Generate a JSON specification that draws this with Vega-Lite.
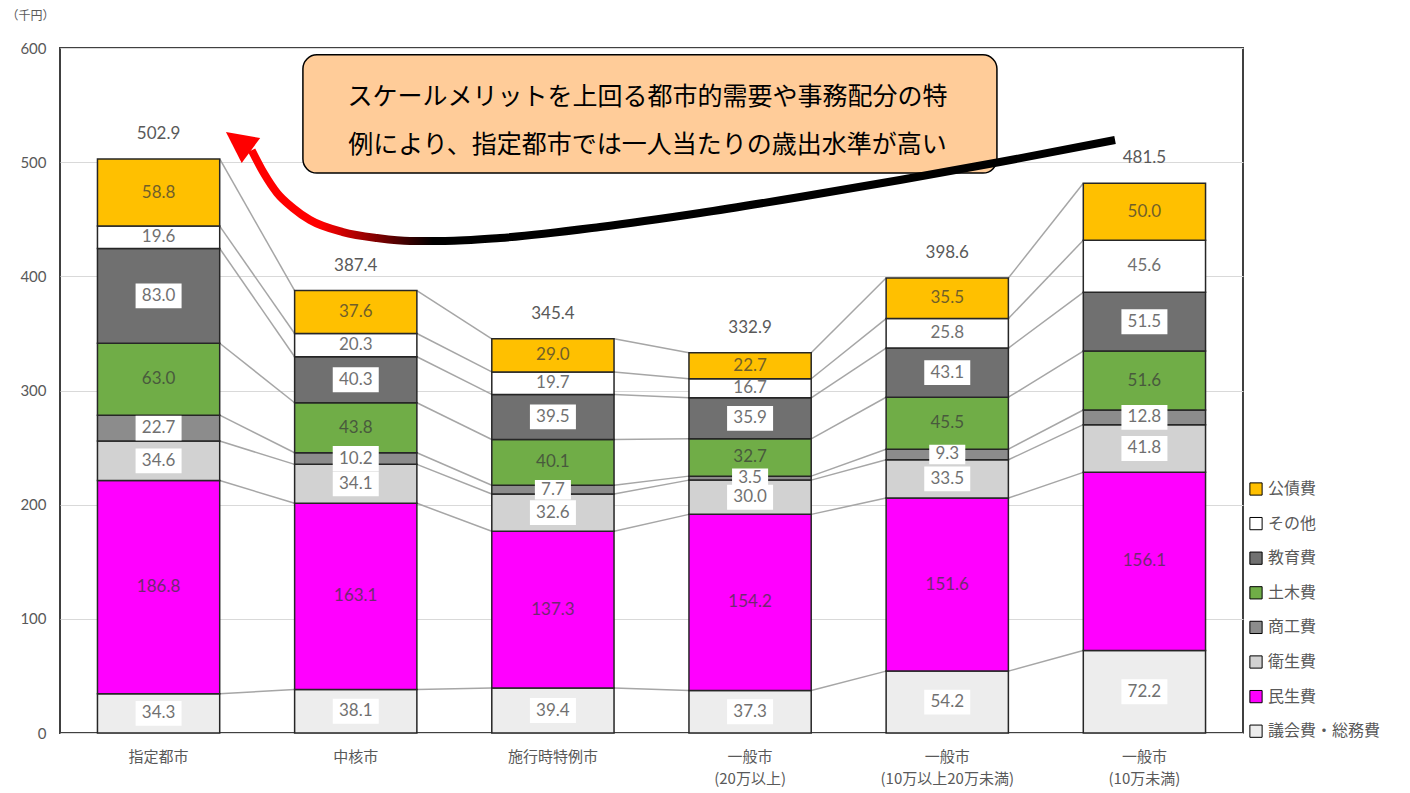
{
"$schema": "https://vega.github.io/schema/vega-lite/v6.json",
"width": 1183, "height": 685,
"autosize": {"type": "none"},
"padding": {"left": 60, "top": 48, "right": 167, "bottom": 60},
"background": "white",
"datasets": {
"spend": [
{"g":"指定都市","gi":0,"c":"議会費・総務費","o":1,"v":34.3},
{"g":"指定都市","gi":0,"c":"民生費","o":2,"v":186.8},
{"g":"指定都市","gi":0,"c":"衛生費","o":3,"v":34.6},
{"g":"指定都市","gi":0,"c":"商工費","o":4,"v":22.7},
{"g":"指定都市","gi":0,"c":"土木費","o":5,"v":63.0},
{"g":"指定都市","gi":0,"c":"教育費","o":6,"v":83.0},
{"g":"指定都市","gi":0,"c":"その他","o":7,"v":19.6},
{"g":"指定都市","gi":0,"c":"公債費","o":8,"v":58.8},
{"g":"中核市","gi":1,"c":"議会費・総務費","o":1,"v":38.1},
{"g":"中核市","gi":1,"c":"民生費","o":2,"v":163.1},
{"g":"中核市","gi":1,"c":"衛生費","o":3,"v":34.1},
{"g":"中核市","gi":1,"c":"商工費","o":4,"v":10.2},
{"g":"中核市","gi":1,"c":"土木費","o":5,"v":43.8},
{"g":"中核市","gi":1,"c":"教育費","o":6,"v":40.3},
{"g":"中核市","gi":1,"c":"その他","o":7,"v":20.3},
{"g":"中核市","gi":1,"c":"公債費","o":8,"v":37.6},
{"g":"施行時特例市","gi":2,"c":"議会費・総務費","o":1,"v":39.4},
{"g":"施行時特例市","gi":2,"c":"民生費","o":2,"v":137.3},
{"g":"施行時特例市","gi":2,"c":"衛生費","o":3,"v":32.6},
{"g":"施行時特例市","gi":2,"c":"商工費","o":4,"v":7.7},
{"g":"施行時特例市","gi":2,"c":"土木費","o":5,"v":40.1},
{"g":"施行時特例市","gi":2,"c":"教育費","o":6,"v":39.5},
{"g":"施行時特例市","gi":2,"c":"その他","o":7,"v":19.7},
{"g":"施行時特例市","gi":2,"c":"公債費","o":8,"v":29.0},
{"g":"一般市(20万以上)","gi":3,"c":"議会費・総務費","o":1,"v":37.3},
{"g":"一般市(20万以上)","gi":3,"c":"民生費","o":2,"v":154.2},
{"g":"一般市(20万以上)","gi":3,"c":"衛生費","o":3,"v":30.0},
{"g":"一般市(20万以上)","gi":3,"c":"商工費","o":4,"v":3.5},
{"g":"一般市(20万以上)","gi":3,"c":"土木費","o":5,"v":32.7},
{"g":"一般市(20万以上)","gi":3,"c":"教育費","o":6,"v":35.9},
{"g":"一般市(20万以上)","gi":3,"c":"その他","o":7,"v":16.7},
{"g":"一般市(20万以上)","gi":3,"c":"公債費","o":8,"v":22.7},
{"g":"一般市(10万以上20万未満)","gi":4,"c":"議会費・総務費","o":1,"v":54.2},
{"g":"一般市(10万以上20万未満)","gi":4,"c":"民生費","o":2,"v":151.6},
{"g":"一般市(10万以上20万未満)","gi":4,"c":"衛生費","o":3,"v":33.5},
{"g":"一般市(10万以上20万未満)","gi":4,"c":"商工費","o":4,"v":9.3},
{"g":"一般市(10万以上20万未満)","gi":4,"c":"土木費","o":5,"v":45.5},
{"g":"一般市(10万以上20万未満)","gi":4,"c":"教育費","o":6,"v":43.1},
{"g":"一般市(10万以上20万未満)","gi":4,"c":"その他","o":7,"v":25.8},
{"g":"一般市(10万以上20万未満)","gi":4,"c":"公債費","o":8,"v":35.5},
{"g":"一般市(10万未満)","gi":5,"c":"議会費・総務費","o":1,"v":72.2},
{"g":"一般市(10万未満)","gi":5,"c":"民生費","o":2,"v":156.1},
{"g":"一般市(10万未満)","gi":5,"c":"衛生費","o":3,"v":41.8},
{"g":"一般市(10万未満)","gi":5,"c":"商工費","o":4,"v":12.8},
{"g":"一般市(10万未満)","gi":5,"c":"土木費","o":5,"v":51.6},
{"g":"一般市(10万未満)","gi":5,"c":"教育費","o":6,"v":51.5},
{"g":"一般市(10万未満)","gi":5,"c":"その他","o":7,"v":45.6},
{"g":"一般市(10万未満)","gi":5,"c":"公債費","o":8,"v":50.0}
],
"totals": [
{"g":"指定都市","t":502.9},
{"g":"中核市","t":387.4},
{"g":"施行時特例市","t":345.4},
{"g":"一般市(20万以上)","t":332.9},
{"g":"一般市(10万以上20万未満)","t":398.6},
{"g":"一般市(10万未満)","t":481.5}
],
"arrow": [
{"px":5.351,"py":519.4},
{"px":4.767,"py":500.1},
{"px":4.260,"py":484.4},
{"px":3.753,"py":469.5},
{"px":3.246,"py":455.5},
{"px":2.739,"py":443.2},
{"px":2.232,"py":433.6},
{"px":1.953,"py":431.0},
{"px":1.775,"py":431.0},
{"px":1.608,"py":433.6},
{"px":1.435,"py":438.8},
{"px":1.268,"py":449.3},
{"px":1.182,"py":459.8},
{"px":1.101,"py":473.0},
{"px":1.035,"py":490.0},
{"px":0.972,"py":510.5}
]
},
"layer": [
{
"layer": [
{
"data": {"name": "spend"},
"transform": [
{"stack": "v", "groupby": ["g"], "sort": [{"field": "o", "order": "ascending"}], "as": ["y0", "y1"]},
{"window": [{"op": "lead", "field": "y1", "as": "ny"}, {"op": "lead", "field": "g", "as": "ng"}], "groupby": ["c"], "sort": [{"field": "gi", "order": "ascending"}]},
{"filter": "datum.ng != null"}
],
"mark": {"type": "rule", "color": "#a6a6a6", "strokeWidth": 1.5},
"encoding": {
"x": {"field": "g", "type": "nominal", "bandPosition": 1, "title": null},
"x2": {"field": "ng", "bandPosition": 0},
"y": {"field": "y1", "type": "quantitative", "title": "（千円）"},
"y2": {"field": "ny"}
}
},
{
"data": {"name": "spend"},
"transform": [
{"stack": "v", "groupby": ["g"], "sort": [{"field": "o", "order": "ascending"}], "as": ["y0", "y1"]}
],
"mark": {"type": "bar", "stroke": "#262626", "strokeWidth": 1.5},
"encoding": {
"x": {"field": "g", "type": "nominal", "title": null,
"sort": ["指定都市","中核市","施行時特例市","一般市(20万以上)","一般市(10万以上20万未満)","一般市(10万未満)"],
"scale": {"domain": ["指定都市","中核市","施行時特例市","一般市(20万以上)","一般市(10万以上20万未満)","一般市(10万未満)"], "paddingInner": 0.38, "paddingOuter": 0.19},
"axis": {"labelExpr": "split(replace(datum.label, '(', '\\n('), '\\n')", "labelAngle": 0, "labelAlign": "center", "bandPosition": 0.5, "labelFontSize": 15, "labelColor": "#595959", "labelPadding": 23, "labelLineHeight": 22, "ticks": false, "domain": false, "labelFont": "Noto Sans CJK JP"}},
"y": {"field": "y0", "type": "quantitative", "title": "（千円）",
"scale": {"domain": [0, 600], "nice": false},
"axis": {"values": [0,100,200,300,400,500,600]}},
"y2": {"field": "y1"},
"color": {"field": "c", "type": "nominal",
"scale": {"domain": ["公債費","その他","教育費","土木費","商工費","衛生費","民生費","議会費・総務費"],
"range": ["#FFC000","#FFFFFF","#707070","#70AD47","#8c8c8c","#d2d2d2","#FF00FF","#ededed"]},
"legend": {"orient": "none", "legendX": 1188, "legendY": 433, "title": null, "symbolType": "square", "symbolSize": 150, "symbolStrokeColor": "#000000", "symbolStrokeWidth": 1, "labelFontSize": 16, "labelColor": "#595959", "labelFont": "Noto Sans CJK JP", "rowPadding": 16.6, "labelOffset": 4}}
}
},
{
"data": {"name": "spend"},
"transform": [
{"stack": "v", "groupby": ["g"], "sort": [{"field": "o", "order": "ascending"}], "as": ["y0", "y1"]},
{"calculate": "(datum.y0 + datum.y1) / 2", "as": "ym"},
{"filter": {"field": "c", "oneOf": ["議会費・総務費","衛生費","商工費","教育費"]}}
],
"mark": {"type": "point", "shape": "M-1,-0.54H1V0.54H-1Z", "filled": true, "fill": "#ffffff", "opacity": 1, "strokeWidth": 0},
"encoding": {
"x": {"field": "g", "type": "nominal", "title": null},
"y": {"field": "ym", "type": "quantitative", "title": "（千円）"},
"size": {"condition": {"test": "datum.v < 10", "value": 1300}, "value": 2116}
}
},
{
"data": {"name": "spend"},
"transform": [
{"stack": "v", "groupby": ["g"], "sort": [{"field": "o", "order": "ascending"}], "as": ["y0", "y1"]},
{"calculate": "(datum.y0 + datum.y1) / 2", "as": "ym"}
],
"mark": {"type": "text", "font": "Lato", "fontSize": 17, "color": "#3a3a3a", "opacity": 0.72, "baseline": "middle", "align": "center"},
"encoding": {
"x": {"field": "g", "type": "nominal", "title": null},
"y": {"field": "ym", "type": "quantitative", "title": "（千円）"},
"text": {"field": "v", "type": "quantitative", "format": ".1f"}
}
},
{
"data": {"name": "totals"},
"mark": {"type": "text", "font": "Lato", "fontSize": 17, "color": "#595959", "baseline": "middle", "align": "center", "dy": -25},
"encoding": {
"x": {"field": "g", "type": "nominal", "title": null},
"y": {"field": "t", "type": "quantitative", "title": "（千円）"},
"text": {"field": "t", "type": "quantitative", "format": ".1f"}
}
}
]
},
{
"layer": [
{
"data": {"values": [{}]},
"mark": {"type": "rect", "fill": "#FFCC99", "stroke": "#000000", "strokeWidth": 1.5, "cornerRadius": 14},
"encoding": {
"x": {"datum": 1.232, "type": "quantitative", "scale": {"domain": [0, 6], "nice": false, "zero": false}, "axis": null},
"x2": {"datum": 4.752},
"y": {"datum": 490.5, "type": "quantitative", "title": "（千円）"},
"y2": {"datum": 594}
}
},
{
"data": {"values": [{"t": "スケールメリットを上回る都市的需要や事務配分の特"}]},
"mark": {"type": "text", "font": "Noto Sans CJK JP", "fontSize": 25, "color": "#000000", "align": "center", "baseline": "middle"},
"encoding": {
"x": {"datum": 2.98, "type": "quantitative", "axis": null},
"y": {"datum": 557, "type": "quantitative", "title": "（千円）"},
"text": {"field": "t"}
}
},
{
"data": {"values": [{"t": "例により、指定都市では一人当たりの歳出水準が高い"}]},
"mark": {"type": "text", "font": "Noto Sans CJK JP", "fontSize": 25, "color": "#000000", "align": "center", "baseline": "middle"},
"encoding": {
"x": {"datum": 2.98, "type": "quantitative", "axis": null},
"y": {"datum": 515, "type": "quantitative", "title": "（千円）"},
"text": {"field": "t"}
}
},
{
"data": {"name": "arrow"},
"mark": {"type": "line", "interpolate": "monotone", "strokeWidth": 8, "strokeCap": "butt",
"stroke": {"gradient": "linear", "x1": 0, "y1": 0, "x2": 1, "y2": 0,
"stops": [{"offset": 0, "color": "#ff0000"}, {"offset": 0.08, "color": "#ff0000"}, {"offset": 0.21, "color": "#000000"}, {"offset": 1, "color": "#000000"}]}},
"encoding": {
"x": {"field": "px", "type": "quantitative", "axis": null},
"y": {"field": "py", "type": "quantitative", "title": "（千円）"}
}
},
{
"data": {"values": [{}]},
"mark": {"type": "point", "shape": "M0,-0.6L0.6,0.6L-0.6,0.6Z", "filled": true, "fill": "#ff0000", "opacity": 1, "strokeWidth": 0, "size": 2683, "angle": 306.5},
"encoding": {
"x": {"datum": 0.905, "type": "quantitative", "axis": null},
"y": {"datum": 518.3, "type": "quantitative", "title": "（千円）"}
}
}
]
}
],
"resolve": {"scale": {"x": "independent"}},
"config": {
"font": "Noto Sans CJK JP",
"view": {"stroke": "#404040", "strokeWidth": 2},
"axisY": {"grid": true, "gridColor": "#d9d9d9", "gridWidth": 1, "domain": false, "ticks": false, "labelFont": "Lato", "labelFontSize": 15, "labelColor": "#595959", "labelPadding": 14,
"titleAngle": 0, "titleX": -30, "titleY": -33, "titleAlign": "center", "titleBaseline": "middle", "titleFontSize": 12, "titleFontWeight": "normal", "titleColor": "#595959", "titleFont": "Noto Sans CJK JP"}
}
}
